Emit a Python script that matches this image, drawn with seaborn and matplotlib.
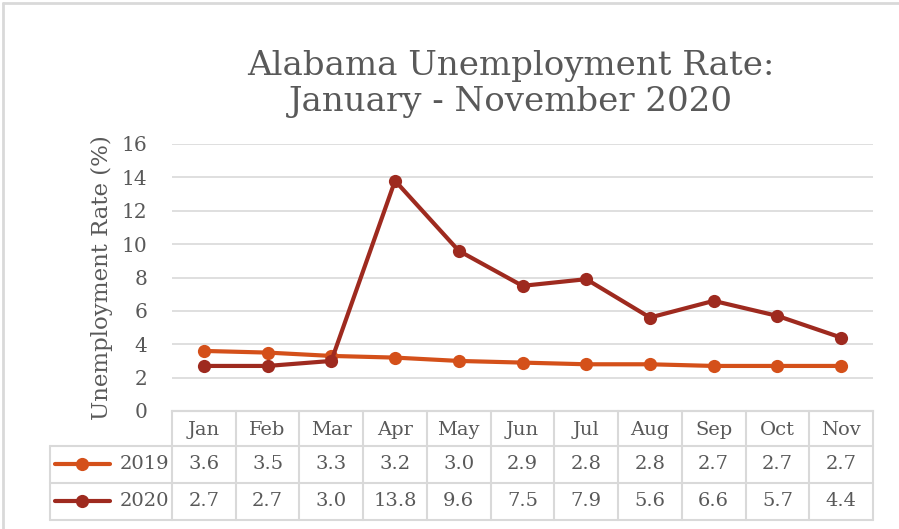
import matplotlib
matplotlib.use("Agg")
import matplotlib.pyplot as plt
import seaborn as sns
import pandas as pd
from matplotlib.lines import Line2D

months = ["Jan", "Feb", "Mar", "Apr", "May", "Jun", "Jul", "Aug", "Sep", "Oct", "Nov"]
rate_2019 = [3.6, 3.5, 3.3, 3.2, 3.0, 2.9, 2.8, 2.8, 2.7, 2.7, 2.7]
rate_2020 = [2.7, 2.7, 3.0, 13.8, 9.6, 7.5, 7.9, 5.6, 6.6, 5.7, 4.4]
series_names = ["2019", "2020"]
series_colors = ["#D4501A", "#9E2A1F"]
title_text = "Alabama Unemployment Rate:\nJanuary - November 2020"
ylabel_text = "Unemployment Rate (%)"
yticks = [0, 2, 4, 6, 8, 10, 12, 14, 16]

sns.set_theme(style="white")
plt.rcParams["font.family"] = ["DejaVu Serif", "DejaVu Sans"]
TXT = "#595959"
GRID = "#D9D9D9"

df = pd.DataFrame({
    "month": months * 2,
    "pos": list(range(len(months))) * 2,
    "rate": rate_2019 + rate_2020,
    "year": [series_names[0]] * len(months) + [series_names[1]] * len(months),
})

W, H = 899, 529
fig = plt.figure(figsize=(W / 100, H / 100), dpi=100)

def box(x0, y0, x1, y1):
    return [x0 / W, 1 - y1 / H, (x1 - x0) / W, (y1 - y0) / H]

ax = fig.add_axes(box(172, 144, 873, 411))
sns.lineplot(data=df, x="pos", y="rate", hue="year", palette=dict(zip(series_names, series_colors)),
             marker="o", markersize=9.5, markeredgewidth=0, linewidth=3, ax=ax, legend=False)
ax.set_xlim(-0.5, len(months) - 0.5)
ax.set_ylim(0, 16)
ax.set_yticks(yticks)
ax.set_yticklabels([str(t) for t in yticks], color=TXT, fontsize=14.5)
ax.set_xticks([])
ax.set_xlabel("")
ax.set_ylabel(ylabel_text, color=TXT, fontsize=16.5, labelpad=6)
ax.tick_params(axis="y", length=0, pad=18)
ax.grid(axis="y", color=GRID, linewidth=1.2)
for s in ["top", "right", "left"]:
    ax.spines[s].set_visible(False)
ax.spines["bottom"].set_color(GRID)
ax.spines["bottom"].set_linewidth(1.5)
ax.set_axisbelow(True)

# data table
tax = fig.add_axes(box(172, 411, 873, 520))
tax.set_xlim(-0.5, len(months) - 0.5)
tax.set_ylim(3, 0)
tax.axis("off")
unit = (873 - 172) / len(months)
xl = -0.5 - (172 - 50) / unit
lk = dict(color=GRID, linewidth=1.5, clip_on=False)
row_edges = [0, 0.95, 1.97, 3.0]
for i in range(len(months) + 1):
    tax.plot([i - 0.5, i - 0.5], [row_edges[0], row_edges[3]], **lk)
tax.plot([xl, xl], [row_edges[1], row_edges[3]], **lk)
tax.plot([-0.5, len(months) - 0.5], [row_edges[0], row_edges[0]], **lk)
for r in row_edges[1:]:
    tax.plot([xl, len(months) - 0.5], [r, r], **lk)
FS = 14
for i, m in enumerate(months):
    tax.text(i, (row_edges[0] + row_edges[1]) / 2 + 0.05, m, ha="center", va="center", color=TXT, fontsize=FS)
for k, vals in enumerate([rate_2019, rate_2020]):
    yc = (row_edges[k + 1] + row_edges[k + 2]) / 2
    for i, v in enumerate(vals):
        tax.text(i, yc, f"{v:.1f}", ha="center", va="center", color=TXT, fontsize=FS)
    x0 = xl + 5 / unit
    x1 = xl + 60 / unit
    tax.plot([x0, x1], [yc, yc], color=series_colors[k], linewidth=3, clip_on=False,
             solid_capstyle="round")
    tax.plot([(x0 + x1) / 2], [yc], marker="o", markersize=9.5, color=series_colors[k], clip_on=False,
             markeredgewidth=0)
    tax.text(-0.55, yc, series_names[k], ha="right", va="center", color=TXT, fontsize=FS)

fig.text(511 / W, 1 - 84 / H, title_text, ha="center", va="center", color=TXT, fontsize=24.5,
         linespacing=1.2)

# chart border (top and left visible)
fig.add_artist(Line2D([3 / W, 1], [1 - 3 / H, 1 - 3 / H], color=GRID, linewidth=2, transform=fig.transFigure))
fig.add_artist(Line2D([3 / W, 3 / W], [0, 1 - 3 / H], color=GRID, linewidth=2, transform=fig.transFigure))

fig.savefig("out.png", dpi=100)
